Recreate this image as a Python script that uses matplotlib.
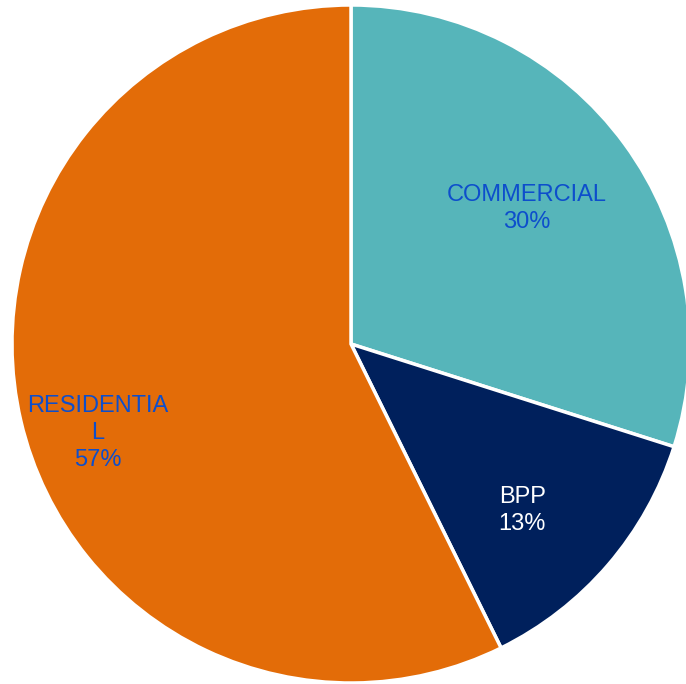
import numpy as np
import matplotlib.pyplot as plt

plt.rcParams['font.family'] = ['Liberation Sans', 'DejaVu Sans']

# Data
labels = ["COMMERCIAL", "BPP", "RESIDENTIA\nL"]
shares = [29.9, 12.8, 57.3]
colors = ["#56B5BA", "#00205C", "#E36C08"]
text_colors = ["#0D4ECC", "#FFFFFF", "#0D4ECC"]

# label placement (radius, angle tweak in degrees)
label_r = [0.66, 0.70, 0.79]
label_dang = [-1.9, 3.1, -5.6]

fig = plt.figure(figsize=(6.86, 6.84), dpi=100)
cx, cy, r = 351, 344, 339
W, H = 686, 684
ax = fig.add_axes([(cx - r) / W, (H - cy - r) / H, 2 * r / W, 2 * r / H])

wedges, _ = ax.pie(shares, colors=colors, startangle=90, counterclock=False,
                   radius=1, wedgeprops=dict(edgecolor="white", linewidth=2.5))
ax.set_xlim(-1, 1)
ax.set_ylim(-1, 1)
ax.set_aspect("equal")
ax.axis("off")

for w, lab, s, tc, lr, da in zip(wedges, labels, shares, text_colors, label_r, label_dang):
    ang = np.deg2rad((w.theta1 + w.theta2) / 2 - da)
    ax.text(lr * np.cos(ang), lr * np.sin(ang) - 0.008, f"{lab}\n{round(s)}%",
            ha="center", va="center", color=tc, fontsize=17, linespacing=1.3)

fig.savefig("out.png", dpi=100)
